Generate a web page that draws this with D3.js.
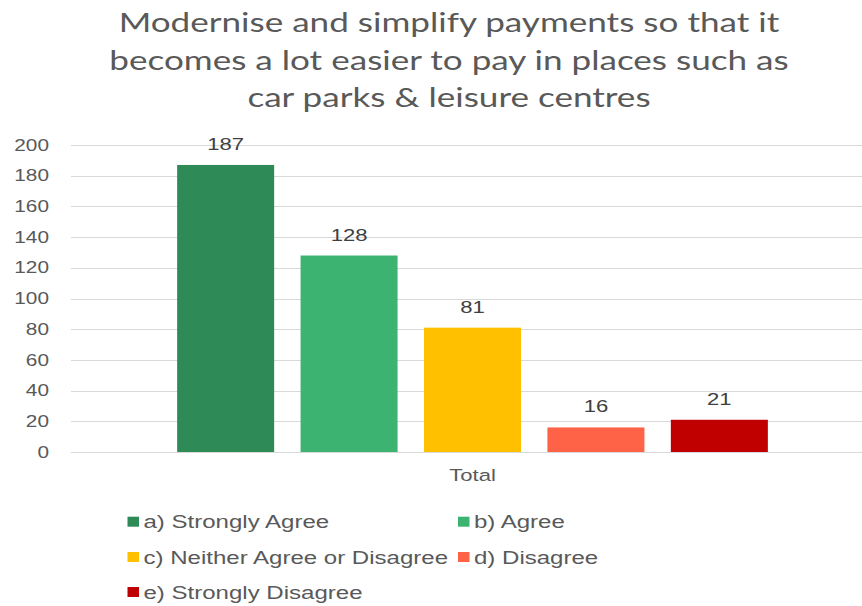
<!DOCTYPE html>
<html>
<head>
<meta charset="utf-8">
<script src="https://cdn.jsdelivr.net/npm/d3@7"></script>
<style>
  html, body { margin: 0; padding: 0; background: #ffffff; }
  svg { display: block; }
</style>
</head>
<body>
<svg id="chart" width="862" height="606"></svg>
<script>
// Survey responses to the payments modernisation proposal
const titleLines = [
  "Modernise and simplify payments so that it",
  "becomes a lot easier to pay in places such as",
  "car parks & leisure centres"
];
const groups = ["Total"];
const seriesNames = [
  "a) Strongly Agree",
  "b) Agree",
  "c) Neither Agree or Disagree",
  "d) Disagree",
  "e) Strongly Disagree"
];
const seriesValues = [187, 128, 81, 16, 21];
const seriesColors = ["#2e8b57", "#3cb371", "#ffc000", "#ff6347", "#c00000"];
const yTicks = [0, 20, 40, 60, 80, 100, 120, 140, 160, 180, 200];

const svg = d3.select("#chart");
const SX = 1.3; // horizontal text stretch

const plot = { left: 71, right: 862, top: 145, bottom: 452 };

// text helper: places a horizontally stretched label at (x, y)
function label(sel, x, y, txt, opts) {
  return sel.append("text")
    .attr("transform", `translate(${x},${y}) scale(${SX},1)`)
    .attr("text-anchor", opts.anchor || "start")
    .attr("font-family", opts.family || "'Liberation Sans', Arial, sans-serif")
    .attr("font-size", opts.size)
    .attr("fill", opts.fill || "#595959")
    .text(txt);
}

// Title
const titleG = svg.append("g");
titleLines.forEach((line, i) => {
  label(titleG, 449, 32 + i * 37.5, line, {
    anchor: "middle", family: "Lato, 'Open Sans', sans-serif", size: 27, fill: "#595959"
  });
});

// Scales
const y = d3.scaleLinear().domain([0, 200]).range([plot.bottom, plot.top]);
const x0 = d3.scaleBand().domain(groups).range([71, 874]).padding(0);
const x1 = d3.scaleBand().domain(seriesNames).range([0, x0.bandwidth()])
  .paddingInner(0.214).paddingOuter(0.86);

// Gridlines
const grid = svg.append("g");
grid.selectAll("line").data(yTicks).join("line")
  .attr("x1", plot.left).attr("x2", plot.right)
  .attr("y1", d => Math.round(y(d)) + 0.5).attr("y2", d => Math.round(y(d)) + 0.5)
  .attr("stroke", "#d9d9d9").attr("stroke-width", 1.2);

// Y tick labels
const yLab = svg.append("g");
yTicks.forEach(v => {
  label(yLab, 49, y(v) + 5.6, String(v), { anchor: "end", size: 16, fill: "#595959" });
});

// Bars
const barsG = svg.append("g").attr("transform", `translate(${x0("Total")},0)`);
barsG.selectAll("rect").data(seriesValues).join("rect")
  .attr("x", (d, i) => x1(seriesNames[i]))
  .attr("width", x1.bandwidth())
  .attr("y", d => y(d))
  .attr("height", d => y(0) - y(d))
  .attr("fill", (d, i) => seriesColors[i]);

// Value labels above bars
seriesValues.forEach((v, i) => {
  label(barsG, x1(seriesNames[i]) + x1.bandwidth() / 2, y(v) - 15, String(v), {
    anchor: "middle", size: 17, fill: "#404040"
  });
});

// Category label
label(svg, x0("Total") + x0.bandwidth() / 2, 481, "Total", {
  anchor: "middle", size: 17, fill: "#595959"
});

// Legend
const legendCols = [127.5, 458];
const legendRows = [521.7, 557, 592];
const legend = svg.append("g");
seriesNames.forEach((name, i) => {
  const cx = legendCols[i % 2];
  const cy = legendRows[Math.floor(i / 2)];
  legend.append("rect")
    .attr("x", cx).attr("y", cy - 5)
    .attr("width", 11.5).attr("height", 10)
    .attr("fill", seriesColors[i]);
  label(legend, cx + 16, cy + 6.5, name, { size: 18.5, fill: "#595959" });
});
</script>
</body>
</html>
